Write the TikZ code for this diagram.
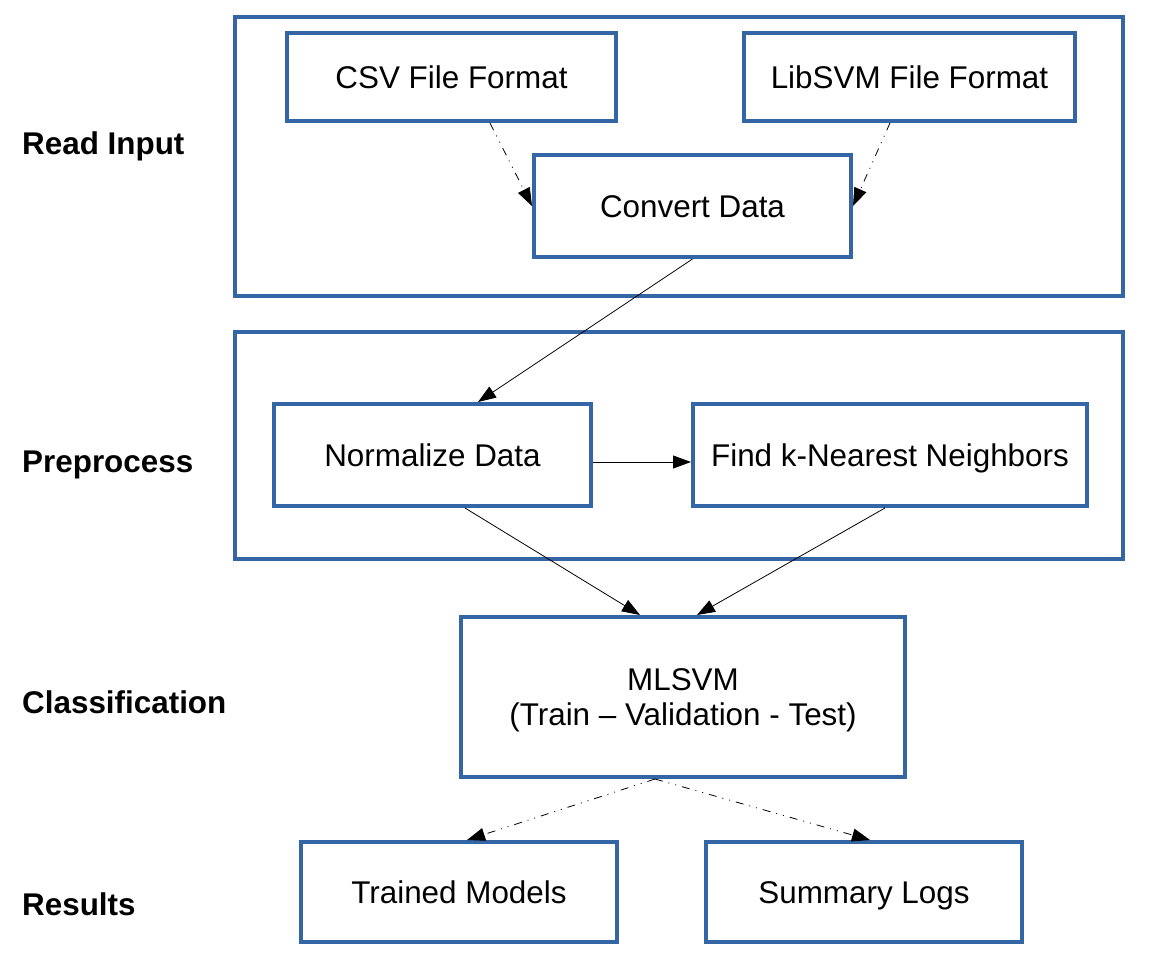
\documentclass[tikz,border=0pt]{standalone}
\usepackage{fontspec}
\setmainfont{Liberation Sans}
\usetikzlibrary{arrows.meta}
\definecolor{boxblue}{HTML}{3465A4}
\begin{document}
\begin{tikzpicture}[x=1pt,y=-1pt,
  every node/.style={font=\fontsize{31.4}{35}\selectfont, text height=22.5pt, text depth=0pt},
  box/.style={draw=boxblue, line width=4pt, inner sep=0pt, align=center},
  grp/.style={draw=boxblue, line width=4pt, inner sep=0pt},
  lbl/.style={anchor=west, inner sep=0pt, font=\fontsize{31.4}{35}\selectfont\bfseries},
  solidarrow/.style={line width=0.8pt, -{Triangle[length=18pt,width=13pt]}},
  dasharrow/.style={line width=0.8pt, dash pattern=on 8pt off 6pt on 1pt off 6pt on 1pt off 6pt, -{Triangle[length=18pt,width=13pt]}}
]
\useasboundingbox (0,0) rectangle (1163,969);
\fill[white] (0,0) rectangle (1163,969);

% groups
\node[grp, minimum width=888pt, minimum height=279pt] (g1) at (679,156.5) {};
\node[grp, minimum width=888pt, minimum height=227pt] (g2) at (679,445.5) {};

% labels
\node[lbl] (l1) at (22,143) {Read Input};
\node[lbl] (l2) at (22,461) {Preprocess};
\node[lbl] (l3) at (22,702) {Classification};
\node[lbl] (l4) at (22,904) {Results};

% boxes
\node[box, minimum width=329pt, minimum height=88pt] (csv) at (451.5,77) {CSV File Format};
\node[box, minimum width=331pt, minimum height=88pt] (lib) at (909.5,77) {LibSVM File Format};
\node[box, minimum width=317pt, minimum height=102pt] (conv) at (692.5,206) {Convert Data};
\node[box, minimum width=317pt, minimum height=102pt] (norm) at (432.5,455) {Normalize Data};
\node[box, minimum width=394pt, minimum height=102pt] (knn) at (890,455) {Find k-Nearest Neighbors};
\node[box, minimum width=444pt, minimum height=160pt, text height=57.5pt] (ml) at (683,697) {MLSVM\\(Train – Validation - Test)};
\node[box, minimum width=316pt, minimum height=100pt] (tm) at (459,892) {Trained Models};
\node[box, minimum width=316pt, minimum height=100pt] (sl) at (864,892) {Summary Logs};

% connectors
\draw[dasharrow] ([xshift=38.5pt]csv.south) -- (conv.west);
\draw[dasharrow] ([xshift=-19.5pt]lib.south) -- (conv.east);
\draw[solidarrow] (conv.south) -- ([xshift=45.5pt]norm.north);
\draw[solidarrow] ([yshift=-7pt]norm.east) -- ([yshift=-7pt]knn.west);
\draw[solidarrow] ([xshift=32.5pt]norm.south) -- ([xshift=-43pt]ml.north);
\draw[solidarrow] ([xshift=-5pt]knn.south) -- ([xshift=14pt]ml.north);
\draw[dasharrow] ([xshift=-28pt]ml.south) -- ([xshift=8pt]tm.north);
\draw[dasharrow] ([xshift=-28pt]ml.south) -- ([xshift=6pt]sl.north);
\end{tikzpicture}
\end{document}
